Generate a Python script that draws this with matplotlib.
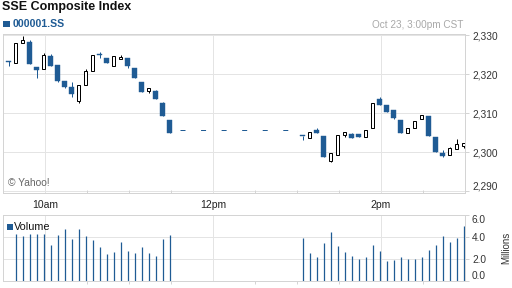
import numpy as np
import matplotlib
matplotlib.use("Agg")
import matplotlib.pyplot as plt
from matplotlib.patches import Rectangle

plt.rcParams['font.family'] = ['Liberation Sans', 'DejaVu Sans']
plt.rcParams['lines.scale_dashes'] = False

# ---------------- data ----------------
# minutes after 9:30 for each 5-minute candle
morning_min = np.arange(4, 124, 5)          # 9:34 ... 11:29
afternoon_min = np.arange(214, 334, 5)      # 13:04 ... 14:59

m_open = [2323.5, 2322.8, 2328.1, 2328.3, 2321.8, 2321.3, 2324.6, 2322.4, 2318.3, 2316.7, 2313.2, 2317.2,
          2320.8, 2325.2, 2324.2, 2322.1, 2323.8, 2324.1, 2321.6, 2317.9, 2315.8, 2315.6, 2312.6, 2308.2]
m_high = [2323.5, 2327.9, 2329.8, 2328.7, 2321.8, 2325.4, 2325.2, 2322.4, 2318.3, 2318.1, 2317.3, 2321.3,
          2324.9, 2325.6, 2324.2, 2324.6, 2324.9, 2324.1, 2321.6, 2317.9, 2316.6, 2315.9, 2312.8, 2308.2]
m_low = [2322.2, 2322.8, 2328.1, 2322.7, 2319.1, 2321.3, 2322.2, 2318.1, 2316.6, 2314.3, 2312.7, 2317.2,
         2320.8, 2324.1, 2322.8, 2322.1, 2323.8, 2321.7, 2319.0, 2315.5, 2315.3, 2313.6, 2309.4, 2304.9]
m_close = [2323.1, 2327.9, 2328.7, 2322.7, 2321.2, 2325.0, 2322.2, 2318.3, 2316.8, 2315.0, 2317.3, 2320.8,
           2324.9, 2324.9, 2322.8, 2324.6, 2324.4, 2322.1, 2319.0, 2315.5, 2316.6, 2313.6, 2309.4, 2304.9]

a_open = [2304.2, 2303.6, 2305.8, 2304.3, 2297.8, 2299.4, 2304.4, 2304.8, 2304.6, 2303.8, 2306.2, 2313.7,
          2312.1, 2310.8, 2308.3, 2304.9, 2306.2, 2308.5, 2309.3, 2303.9, 2299.9, 2299.4, 2300.8, 2301.6]
a_high = [2304.2, 2305.3, 2306.2, 2304.3, 2299.7, 2304.4, 2305.1, 2305.0, 2304.6, 2305.6, 2312.7, 2314.2,
          2312.1, 2310.8, 2308.3, 2306.2, 2308.1, 2309.5, 2309.3, 2303.9, 2300.5, 2301.4, 2303.4, 2302.3]
a_low = [2303.1, 2303.6, 2304.9, 2298.9, 2297.6, 2299.4, 2303.8, 2303.6, 2303.8, 2303.8, 2306.2, 2312.0,
         2310.4, 2308.5, 2305.0, 2304.9, 2306.2, 2308.5, 2304.3, 2300.2, 2298.9, 2299.4, 2300.8, 2301.0]
a_close = [2304.2, 2305.3, 2304.9, 2298.9, 2299.7, 2304.4, 2305.1, 2303.6, 2303.8, 2305.6, 2312.7, 2312.0,
           2310.4, 2308.9, 2305.0, 2306.2, 2308.1, 2309.5, 2304.3, 2300.2, 2299.1, 2301.0, 2302.2, 2302.3]

lunch_level = 2305.6

# volume in millions (morning bars start from the 2nd candle)
m_volume = [4.3, 4.1, 4.3, 4.3, 4.3, 3.3, 4.2, 4.75, 3.85, 4.75, 4.1, 3.75, 3.1, 2.45, 2.65, 3.55,
            2.75, 2.55, 3.1, 2.55, 2.3, 3.85, 4.2]
a_volume = [3.95, 2.55, 2.2, 3.45, 4.45, 3.2, 2.65, 2.3, 2.0, 2.2, 3.3, 2.75, 1.85, 1.9, 2.2, 2.0,
            2.0, 2.2, 2.85, 3.3, 4.05, 3.55, 3.95, 5.0]

price_ticks = [2290, 2300, 2310, 2320, 2330]
price_labels = ['2,290', '2,300', '2,310', '2,320', '2,330']
vol_ticks = [0, 2, 4, 6]
vol_labels = ['0.0', '2.0', '4.0', '6.0']
hour_ticks = [30, 150, 270]
hour_labels = ['10am', '12pm', '2pm']

# ---------------- style ----------------
BLUE = '#1f5b94'
GRID = '#e4e4e4'
SPINE = '#d4d4d4'
PX = 0.72  # one pixel in points at 100 dpi

fig = plt.figure(figsize=(5.12, 2.88), dpi=100)
ax = fig.add_axes([3/512, 1-193/288, 462/512, 159/288])
axv = fig.add_axes([3/512, 1-281/288, 462/512, 66/288])

for a in (ax, axv):
    a.set_xlim(0, 330)
    for s in a.spines.values():
        s.set_color(SPINE)
        s.set_linewidth(PX)
    a.set_axisbelow(True)

ax.set_ylim(2289.56, 2330.33)
axv.set_ylim(0, 6)

# gridlines
for v in price_ticks:
    ax.axhline(v, color=GRID, lw=PX, zorder=0)
for v in vol_ticks[1:]:
    axv.axhline(v, color=GRID, lw=PX, zorder=0)
for t in hour_ticks:
    ax.axvline(t, color=GRID, lw=PX, zorder=0)
    axv.axvline(t, color=GRID, lw=PX, zorder=0)

# candles
times = np.concatenate([morning_min, afternoon_min])
opens = np.array(m_open + a_open)
highs = np.array(m_high + a_high)
lows = np.array(m_low + a_low)
closes = np.array(m_close + a_close)

up = closes > opens
for t, o, h, l, c, u in zip(times, opens, highs, lows, closes, up):
    ax.vlines(t, l, h, color='black' if u else BLUE, lw=PX, zorder=2)
    lo, hi = min(o, c), max(o, c)
    if hi - lo < 0.25:
        hi = lo + 0.25
    if u:
        ax.add_patch(Rectangle((t - 1.35, lo), 2.7, hi - lo, facecolor='white',
                               edgecolor='black', lw=PX, zorder=3))
    else:
        ax.add_patch(Rectangle((t - 1.6, lo), 3.2, hi - lo, facecolor=BLUE,
                               edgecolor=BLUE, lw=0.3, zorder=3))

# lunch break flat line
lunch_start = morning_min[-1] + 7.4
lunch_end = afternoon_min[0] - 10.4
ln, = ax.plot([lunch_start, lunch_end], [lunch_level, lunch_level], color=BLUE, lw=PX)
ln.set_dashes([3.6, 11.2])

# volume
axv.vlines(morning_min[1:], 0, m_volume, color=BLUE, lw=0.9)
axv.vlines(afternoon_min, 0, a_volume, color=BLUE, lw=0.9)

# axes ticks
ax.yaxis.tick_right()
ax.set_yticks(price_ticks)
ax.set_yticklabels(price_labels)
ax.tick_params(axis='y', length=3, width=PX, color=SPINE, pad=2, labelsize=7.3, labelcolor='#333333')
for lab in ax.get_yticklabels():
    if lab.get_text() == '2,290':
        lab.set_va('bottom')
ax.set_xticks(hour_ticks)
ax.set_xticklabels(hour_labels)
ax.set_xticks([60, 90, 120, 180, 210, 240, 300], minor=True)
ax.tick_params(axis='x', which='major', length=0, pad=5, labelsize=7.5, labelcolor='#222222')
ax.tick_params(axis='x', which='minor', length=2.5, width=PX, color=SPINE, direction='in')

axv.yaxis.tick_right()
axv.set_yticks(vol_ticks)
axv.set_yticklabels(vol_labels)
axv.tick_params(axis='y', length=3, width=PX, color=SPINE, pad=2, labelsize=7.3, labelcolor='#333333')
for lab in axv.get_yticklabels():
    if lab.get_text() == '6.0':
        lab.set_va('top')
    elif lab.get_text() == '0.0':
        lab.set_va('bottom')
axv.set_xticks([])
axv.set_xticks([60, 90, 120, 180, 210, 240, 300], minor=True)
axv.tick_params(axis='x', which='minor', length=2, width=PX, color=SPINE, direction='out', labelbottom=False)

# texts
fig.text(2/512, 1 - 1/288, 'SSE Composite Index', fontsize=9, fontweight='bold',
         color='#111111', va='top', ha='left')
fig.patches.append(Rectangle((3/512, 1 - 27/288), 6.5/512, 6.3/288, transform=fig.transFigure,
                             facecolor=BLUE, edgecolor='none'))
fig.text(13/512, 1 - 24/288, '000001.SS', fontsize=7.6, fontweight='bold', color=BLUE,
         va='center', ha='left')
fig.text(463/512, 1 - 24.5/288, 'Oct 23, 3:00pm CST', fontsize=7.2, color='#a8a8a8',
         va='center', ha='right')
ax.text(5/462, 10/159, '\u00a9 Yahoo!', transform=ax.transAxes, fontsize=7.4, color='#666666',
        va='center', ha='left')

fig.patches.append(Rectangle((7/512, 1 - 229.5/288), 5.5/512, 6/288, transform=fig.transFigure,
                             facecolor=BLUE, edgecolor='none'))
fig.text(14/512, 1 - 227/288, 'Volume', fontsize=7.8, color='#111111', va='center', ha='left')
fig.text(506/512, 1 - 248/288, 'Millions', fontsize=7, color='#333333', rotation=90,
         va='center', ha='center')

fig.savefig('out.png', dpi=100, facecolor='white')
